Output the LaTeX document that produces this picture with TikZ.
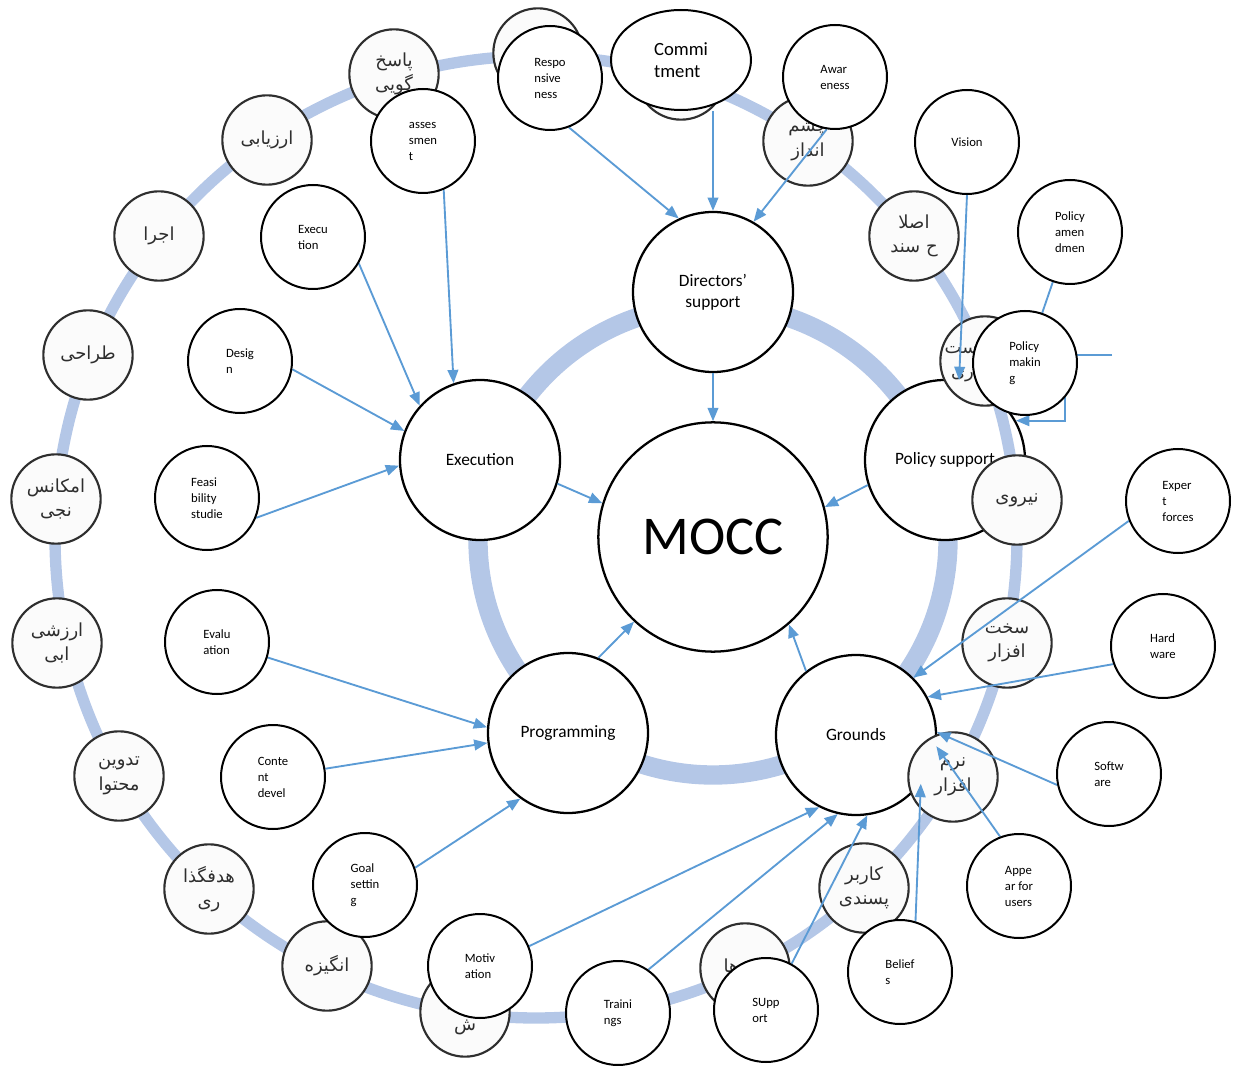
\documentclass[tikz,border=0pt]{standalone}
\usepackage{fontspec}
\setmainfont{Carlito}
\newfontfamily\fa[Script=Arabic]{DejaVu Sans}
\TeXXeTstate=1
\usetikzlibrary{arrows.meta,shapes.geometric}
\definecolor{ringblue}{HTML}{B4C7E7}
\definecolor{arrblue}{HTML}{5B9BD5}
\definecolor{rgray}{HTML}{2E2E2E}
\definecolor{rfill}{HTML}{FBFBFB}
\pgfdeclarelayer{bg}
\pgfdeclarelayer{ringl}
\pgfdeclarelayer{arr}
\pgfdeclarelayer{front}
\pgfsetlayers{bg,main,ringl,arr,front}
\newcommand\fatext[1]{\beginR #1\endR}
\tikzset{
 bignode/.style={circle, draw=black, line width=1.7pt, fill=white, minimum size=120pt, inner sep=0pt, align=center, font=\fontsize{13}{16}\selectfont},
 smallnode/.style={circle, draw=black, line width=1.5pt, fill=white, minimum size=78pt, inner sep=0pt, align=left, font=\fontsize{9.5}{12}\selectfont},
 ringnode/.style={circle, draw=rgray, line width=1.6pt, fill=rfill, minimum size=67pt, inner sep=0pt, align=center, text=rgray, font=\fa\fontsize{13.5}{18.5}\selectfont},
 ringtext/.style={inner sep=0pt, align=center, text=rgray, font=\fa\fontsize{13.5}{18.5}\selectfont},
 conn/.style={draw=arrblue, line width=1.4pt},
 arrow/.style={conn, -{Triangle[length=10pt,width=8pt]}},
}
\begin{document}
\begin{tikzpicture}[x=0.75pt,y=-0.75pt]
\path[use as bounding box] (0,0) rectangle (1240,1066);

% inner ring
\begin{pgfonlayer}{bg}
\draw[ringblue, line width=14.5pt] (713,540) circle[radius=235];
\end{pgfonlayer}

% main nodes
\node[bignode, minimum size=172pt, font=\fontsize{41}{45}\selectfont] (mocc) at (713,537) {MOCC};
\node[bignode] (ds) at (713,292) {Directors\char39\\support};
\node[bignode] (exec) at (480,460) {Execution};
\node[bignode] (ps) at (945,460) {Policy support};
\node[bignode] (prog) at (568,733) {Programming};
\node[bignode] (grounds) at (856,735) {Grounds};

% outer ring and ring circles
\begin{pgfonlayer}{ringl}
\draw[ringblue, line width=8.5pt] (536,537) circle[radius=481];
\node[ringnode] (r1) at (394,74) {\fatext{پاسخ}\\\fatext{گویی}};
\node[ringnode] (r2) at (538,53) {};
\node[ringnode] (r3) at (681,75) {};
\node[ringnode] (r4) at (808,141) {\fatext{چشم}\\\fatext{انداز}};
\node[ringnode] (r5) at (914,236) {\fatext{اصلا}\\\fatext{ح سند}};
\node[ringnode] (r6) at (985,361) {};
\node[ringtext] (r6t) at (974,361) {\fatext{سیاست}\\\fatext{گذاری}};
\node[ringnode] (r7) at (1017,500) {\fatext{نیروی}};
\node[ringnode] (r8) at (1007,643) {\fatext{سخت}\\\fatext{افزار}};
\node[ringnode] (r9) at (953,777) {\fatext{نرم}\\\fatext{افزار}};
\node[ringnode] (r10) at (864,888) {\fatext{کاربر}\\\fatext{پسندی}};
\node[ringnode] (r11) at (745,968) {\fatext{باورها}};
\node[ringnode] (r12) at (465,1012) {\fatext{آموز}\\\fatext{ش}};
\node[ringnode] (r13) at (327,966) {\fatext{انگیزه}};
\node[ringnode] (r14) at (209,889) {\fatext{هدفگذا}\\\fatext{ری}};
\node[ringnode] (r15) at (119,776) {\fatext{تدوین}\\\fatext{محتوا}};
\node[ringnode] (r16) at (57,643) {\fatext{ارزشی}\\\fatext{ابی}};
\node[ringnode] (r17) at (56,499) {\fatext{امکانس}\\\fatext{نجی}};
\node[ringnode] (r18) at (88,355) {\fatext{طراحی}};
\node[ringnode] (r19) at (159,236) {\fatext{اجرا}};
\node[ringnode] (r20) at (267,140) {\fatext{ارزیابی}};
\end{pgfonlayer}

% small nodes
\begin{pgfonlayer}{front}
\node[smallnode] (resp) at (550,78) {Respo\\nsive\\ness};
\node[ellipse, draw=black, line width=1.5pt, fill=white, minimum width=105pt, minimum height=75pt, inner sep=0pt, align=left, font=\fontsize{14}{16.5}\selectfont] (commit) at (681,60) {Commi\\tment};
\node[smallnode] (aware) at (835,77) {Awar\\eness};
\node[smallnode] (assess) at (423,141) {asses\\smen\\t};
\node[smallnode] (execs) at (313,237) {Execu\\tion};
\node[smallnode] (design) at (240,361) {Desig\\n};
\node[smallnode] (feas) at (207,498) {Feasi\\bility\\studie};
\node[smallnode] (evalu) at (217,642) {Evalu\\ation};
\node[smallnode] (content) at (273,777) {Conte\\nt\\devel};
\node[smallnode] (goal) at (365,885) {Goal\\settin\\g};
\node[smallnode] (motiv) at (480,966) {Motiv\\ation};
\node[smallnode] (train) at (618,1013) {Traini\\ngs};
\node[smallnode] (supp) at (766,1010) {SUpp\\ort};
\node[smallnode] (belief) at (900,972) {Belief\\s};
\node[smallnode] (appear) at (1019,886) {Appe\\ar for\\users};
\node[smallnode] (soft) at (1109,774) {Softw\\are};
\node[smallnode] (hard) at (1163,646) {Hard\\ware};
\node[smallnode] (expert) at (1178,501) {Exper\\t\\forces};
\node[smallnode] (pamend) at (1070,232) {Policy\\amen\\dmen};
\node[smallnode] (vision) at (967,142) {Vision};
\node[smallnode] (pmake) at (1025,363) {Policy\\makin\\g};
\end{pgfonlayer}

\coordinate (pmfree) at (1112,355);

% connectors
\begin{pgfonlayer}{arr}
\draw[arrow] (resp.-69) -- (ds.115);
\draw[arrow] (commit.south -| ds.north) -- (ds.north);
\draw[arrow] (aware.-99) -- (ds.60);
\draw[arrow] (ds.south) -- (mocc.north);
\draw[arrow] (assess.-67) -- (exec.109);
\draw[arrow] (execs.-30) -- (exec.138);
\draw[arrow] (design.-9) -- (exec.159);
\draw[arrow] (feas.-22) -- (exec.184);
\draw[arrow] (exec.-17) -- (mocc.163);
\draw[arrow] (vision.south) -- (ps.80);
\draw[arrow] (ps.198) -- (mocc.15);
\draw[arrow] (expert.-158) -- (grounds.45);
\draw[arrow] (hard.-160) -- (grounds.28);
\draw[arrow] (soft.-168) -- (grounds.2);
\draw[arrow] (appear.111) -- (grounds.-8);
\draw[arrow] (belief.73) -- (grounds.-37);
\draw[arrow] (supp.61) -- (grounds.-82);
\draw[arrow] (train.55) -- (grounds.-103);
\draw[arrow] (motiv.22) -- (grounds.-117);
\draw[arrow] (grounds.128) -- (mocc.-49);
\draw[arrow] (prog.68) -- (mocc.-133);
\draw[arrow] (evalu.-17) -- (prog.176);
\draw[arrow] (content.9) -- (prog.-173);
\draw[arrow] (goal.19) -- (prog.-126);
\draw[conn] (pamend) -- (pmake);
\draw[arrow] (pmfree) -- ++(-47,0) |- (ps.29);
\end{pgfonlayer}
\end{tikzpicture}
\end{document}
